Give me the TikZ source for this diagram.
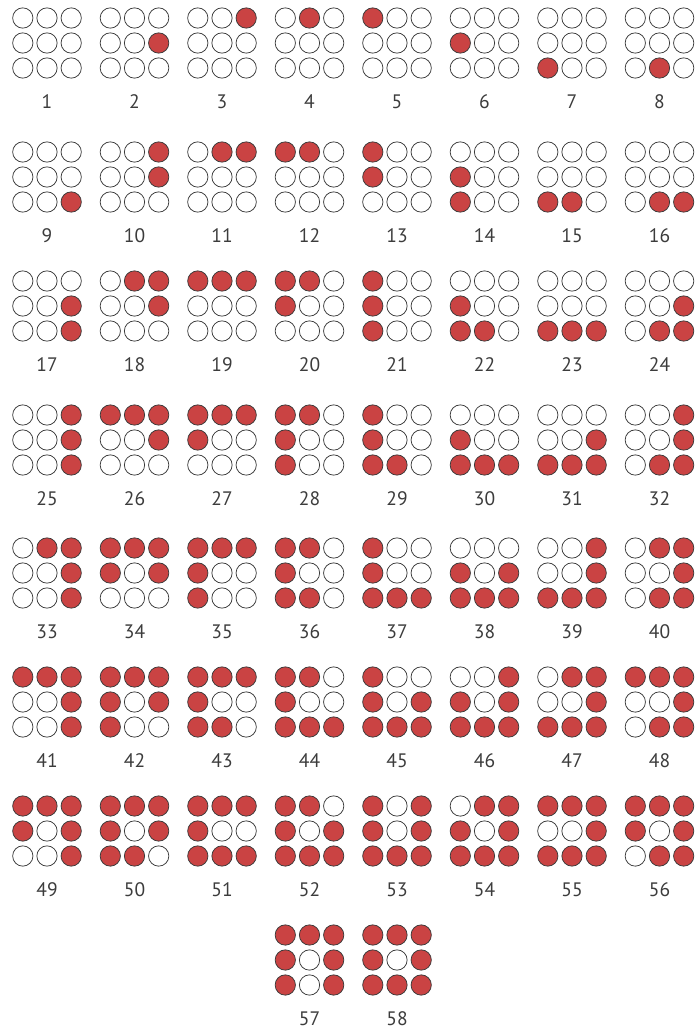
\documentclass[tikz,border=0pt]{standalone}
\usepackage{fontspec}
\setmainfont{PT Sans}
\definecolor{dotred}{HTML}{CA4343}
\definecolor{dotline}{HTML}{3A3A3A}
\definecolor{lblgray}{HTML}{3C3C3C}
\begin{document}
\begin{tikzpicture}[x=1pt,y=-1pt,
  dot/.style={circle,draw=dotline,line width=0.75pt,minimum size=20.3pt,inner sep=0pt},
  lbl/.style={text=lblgray,font=\fontsize{19.5}{21}\selectfont,inner sep=0pt}]
\useasboundingbox[fill=white] (0,0) rectangle (697,1033);
\def\pats{%
{0,0,0,0,0,0,0,0,0},{0,0,0,0,0,1,0,0,0},{0,0,1,0,0,0,0,0,0},{0,1,0,0,0,0,0,0,0},%
{1,0,0,0,0,0,0,0,0},{0,0,0,1,0,0,0,0,0},{0,0,0,0,0,0,1,0,0},{0,0,0,0,0,0,0,1,0},%
{0,0,0,0,0,0,0,0,1},{0,0,1,0,0,1,0,0,0},{0,1,1,0,0,0,0,0,0},{1,1,0,0,0,0,0,0,0},%
{1,0,0,1,0,0,0,0,0},{0,0,0,1,0,0,1,0,0},{0,0,0,0,0,0,1,1,0},{0,0,0,0,0,0,0,1,1},%
{0,0,0,0,0,1,0,0,1},{0,1,1,0,0,1,0,0,0},{1,1,1,0,0,0,0,0,0},{1,1,0,1,0,0,0,0,0},%
{1,0,0,1,0,0,1,0,0},{0,0,0,1,0,0,1,1,0},{0,0,0,0,0,0,1,1,1},{0,0,0,0,0,1,0,1,1},%
{0,0,1,0,0,1,0,0,1},{1,1,1,0,0,1,0,0,0},{1,1,1,1,0,0,0,0,0},{1,1,0,1,0,0,1,0,0},%
{1,0,0,1,0,0,1,1,0},{0,0,0,1,0,0,1,1,1},{0,0,0,0,0,1,1,1,1},{0,0,1,0,0,1,0,1,1},%
{0,1,1,0,0,1,0,0,1},{1,1,1,1,0,1,0,0,0},{1,1,1,1,0,0,1,0,0},{1,1,0,1,0,0,1,1,0},%
{1,0,0,1,0,0,1,1,1},{0,0,0,1,0,1,1,1,1},{0,0,1,0,0,1,1,1,1},{0,1,1,0,0,1,0,1,1},%
{1,1,1,0,0,1,0,0,1},{1,1,1,1,0,1,1,0,0},{1,1,1,1,0,0,1,1,0},{1,1,0,1,0,0,1,1,1},%
{1,0,0,1,0,1,1,1,1},{0,0,1,1,0,1,1,1,1},{0,1,1,0,0,1,1,1,1},{1,1,1,0,0,1,0,1,1},%
{1,1,1,1,0,1,0,0,1},{1,1,1,1,0,1,1,1,0},{1,1,1,1,0,0,1,1,1},{1,1,0,1,0,1,1,1,1},%
{1,0,1,1,0,1,1,1,1},{0,1,1,1,0,1,1,1,1},{1,1,1,0,0,1,1,1,1},{1,1,1,1,0,1,0,1,1},%
{1,1,1,1,0,1,1,0,1},{1,1,1,1,0,1,1,1,1}}
\foreach \p [count=\k] in \pats {
  \pgfmathtruncatemacro\r{int((\k-1)/8)}
  \pgfmathtruncatemacro\c{mod(\k-1,8)+(\k>56)*3}
  \pgfmathsetmacro\ym{{43,177,306,440,573,702,831,960}[\r]}
  \pgfmathsetmacro\xm{47+\c*87.5}
  \foreach \b [count=\i from 0] in \p {
    \pgfmathtruncatemacro\rr{int(\i/3)}
    \pgfmathtruncatemacro\cc{mod(\i,3)}
    \ifnum\b=1 \def\fc{dotred}\else \def\fc{white}\fi
    \node[dot,fill=\fc] (d\k-\i) at ({\xm+(\cc-1)*24.2},{\ym+(\rr-1)*25}) {};
  }
  \node[lbl] (l\k) at (\xm,\ym+58.5) {\k};
}
\end{tikzpicture}
\end{document}
